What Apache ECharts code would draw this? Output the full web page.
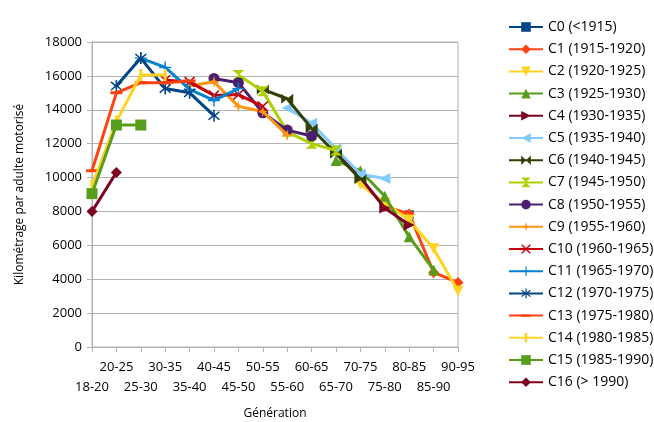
<!DOCTYPE html>
<html>
<head>
<meta charset="utf-8">
<script src="https://cdn.jsdelivr.net/npm/echarts@6/dist/echarts.min.js"></script>
<style>
  html, body { margin: 0; padding: 0; background: #fff; }
  #chart { width: 654px; height: 422px; }
</style>
</head>
<body>
<div id="chart"></div>
<script>
// age groups on the x axis
const categories = ['18-20', '20-25', '25-30', '30-35', '35-40', '40-45', '45-50', '50-55',
  '55-60', '60-65', '65-70', '70-75', '75-80', '80-85', '85-90', '90-95']
const seriesNames = ['C0 (<1915)', 'C1 (1915-1920)', 'C2 (1920-1925)', 'C3 (1925-1930)',
  'C4 (1930-1935)', 'C5 (1935-1940)', 'C6 (1940-1945)', 'C7 (1945-1950)', 'C8 (1950-1955)',
  'C9 (1955-1960)', 'C10 (1960-1965)', 'C11 (1965-1970)', 'C12 (1970-1975)',
  'C13 (1975-1980)', 'C14 (1980-1985)', 'C15 (1985-1990)', 'C16 (> 1990)']

// km per motorised adult, one array per generation (null = no data)
const _ = null
const c0 = [_, _, _, _, _, _, _, _, _, _, _, _, _, 7800, _, _]
const c1 = [_, _, _, _, _, _, _, _, _, _, _, _, 8300, 7850, 4400, 3800]
const c2 = [_, _, _, _, _, _, _, _, _, _, _, 9600, 8500, 7500, 5800, 3300]
const c3 = [_, _, _, _, _, _, _, _, _, _, 11000, 10400, 8900, 6500, 4550, _]
const c4 = [_, _, _, _, _, _, _, _, _, _, 11700, 10000, 8200, 7200, _, _]
const c5 = [_, _, _, _, _, _, _, _, 14100, 13200, 11700, 10200, 9950, _, _, _]
const c6 = [_, _, _, _, _, _, _, 15200, 14650, 12900, 11400, 9900, _, _, _, _]
const c7 = [_, _, _, _, _, _, 16050, 15100, 12700, 12000, 11600, _, _, _, _, _]
const c8 = [_, _, _, _, _, 15850, 15600, 13820, 12800, 12450, _, _, _, _, _, _]
const c9 = [_, _, _, _, 15400, 15650, 14200, 13900, 12500, _, _, _, _, _, _, _]
const c10 = [_, _, _, 15750, 15650, 14850, 14900, 14200, _, _, _, _, _, _, _, _]
const c11 = [_, _, 17050, 16500, 15200, 14550, 15250, _, _, _, _, _, _, _, _, _]
const c12 = [_, 15400, 17050, 15250, 15000, 13650, _, _, _, _, _, _, _, _, _, _]
const c13 = [10400, 15000, 15600, 15600, 15700, _, _, _, _, _, _, _, _, _, _, _]
const c14 = [9500, 13300, 16050, 16050, _, _, _, _, _, _, _, _, _, _, _, _]
const c15 = [9050, 13100, 13100, _, _, _, _, _, _, _, _, _, _, _, _, _]
const c16 = [8000, 10300, _, _, _, _, _, _, _, _, _, _, _, _, _, _]
const allData = [c0, c1, c2, c3, c4, c5, c6, c7, c8, c9, c10, c11, c12, c13, c14, c15, c16]
const yTicks = [0, 2000, 4000, 6000, 8000, 10000, 12000, 14000, 16000, 18000]

const colors = ['#004586', '#ff420e', '#ffd320', '#579d1c', '#7e0021', '#83caff', '#314004',
  '#aecf00', '#4b1f6f', '#ff950e', '#c5000b', '#0084d1', '#004586', '#ff420e', '#ffd320',
  '#579d1c', '#7e0021']

// marker shapes, LibreOffice style
// (bars get tiny corner dots so the legend keeps them thin)
const marks = [
  { symbol: 'rect', size: 9 },
  { symbol: 'diamond', size: 11 },
  { symbol: 'triangle', size: 11, rotate: 180 },
  { symbol: 'triangle', size: 11 },
  { symbol: 'triangle', size: 11, rotate: -90 },
  { symbol: 'triangle', size: 11, rotate: 90 },
  { symbol: 'path://M0,0 L10,5 L0,10 Z M20,0 L20,10 L10,5 Z', size: [12, 10] },
  { symbol: 'path://M0,0 L10,0 L5,5 Z M0,10 L10,10 L5,5 Z', size: [12, 10] },
  { symbol: 'circle', size: 11 },
  { symbol: 'path://M5,0 L6,4 L10,5 L6,6 L5,10 L4,6 L0,5 L4,4 Z', size: 12 },
  { symbol: 'path://M0,1 L1,0 L5,4 L9,0 L10,1 L6,5 L10,9 L9,10 L5,6 L1,10 L0,9 L4,5 Z', size: 11 },
  { symbol: 'path://M4.4,0 L5.6,0 L5.6,4.4 L10,4.4 L10,5.6 L5.6,5.6 L5.6,10 L4.4,10 L4.4,5.6 L0,5.6 L0,4.4 L4.4,4.4 Z', size: 12 },
  { symbol: 'path://M4.4,0 L5.6,0 L5.6,4 L8.8,1.2 L9.6,2 L6.4,5 L9.6,8 L8.8,8.8 L5.6,6 L5.6,10 L4.4,10 L4.4,6 L1.2,8.8 L0.4,8 L3.6,5 L0.4,2 L1.2,1.2 L4.4,4 Z', size: 12 },
  { symbol: 'path://M0,0 L0.01,0 L0,0.01 Z M0,4.5 L12,4.5 L12,7.5 L0,7.5 Z M11.99,12 L12,12 L12,11.99 Z', size: 12 },
  { symbol: 'path://M0,0 L0.01,0 L0,0.01 Z M4.5,0 L7.5,0 L7.5,12 L4.5,12 Z M11.99,12 L12,12 L12,11.99 Z', size: 12 },
  { symbol: 'rect', size: 11 },
  { symbol: 'diamond', size: 11 }
]

const series = allData.map((d, i) => ({
  name: seriesNames[i],
  type: 'line',
  data: d,
  connectNulls: false,
  symbol: marks[i].symbol,
  symbolSize: marks[i].size,
  symbolRotate: marks[i].rotate || 0,
  showAllSymbol: true,
  lineStyle: { width: 3, color: colors[i] },
  itemStyle: { color: colors[i] },
  z: 2 + i
}))

const chart = echarts.init(document.getElementById('chart'))
chart.setOption({
  animation: false,
  textStyle: { fontFamily: 'Open Sans' },
  grid: {
    left: 92, right: 196, top: 42, bottom: 75,
    outerBoundsMode: 'none',
    show: true, borderColor: '#b3b3b3', borderWidth: 1
  },
  legend: {
    orient: 'vertical',
    left: 503,
    top: 15,
    itemWidth: 34,
    itemHeight: 12,
    itemGap: 8.2,
    textStyle: { fontSize: 14, color: '#000', fontFamily: 'Open Sans' },
    data: seriesNames
  },
  xAxis: {
    type: 'category',
    data: categories,
    boundaryGap: false,
    name: 'Génération',
    nameLocation: 'middle',
    nameGap: 61,
    nameTextStyle: { fontSize: 12, color: '#000' },
    axisLine: { lineStyle: { color: '#b3b3b3' } },
    axisTick: { show: true, interval: 0, length: 5, lineStyle: { color: '#b3b3b3' } },
    axisLabel: {
      interval: 0,
      fontSize: 13,
      color: '#000',
      margin: 10,
      lineHeight: 20,
      formatter: (v, i) => (i % 2 === 0 ? '\n' + v : v)
    }
  },
  yAxis: {
    type: 'value',
    min: 0,
    max: 18000,
    interval: 2000,
    name: 'Kilométrage par adulte motorisé',
    nameLocation: 'middle',
    nameGap: 66,
    nameTextStyle: { fontSize: 12, color: '#000' },
    axisLine: { show: true, lineStyle: { color: '#b3b3b3' } },
    axisTick: { show: true, length: 5, lineStyle: { color: '#b3b3b3' } },
    axisLabel: {
      fontSize: 13,
      color: '#000',
      margin: 10,
      formatter: (v) => (yTicks.includes(v) ? String(v) : '')
    },
    splitLine: { lineStyle: { color: '#b3b3b3' } }
  },
  series: series
})
</script>
</body>
</html>
